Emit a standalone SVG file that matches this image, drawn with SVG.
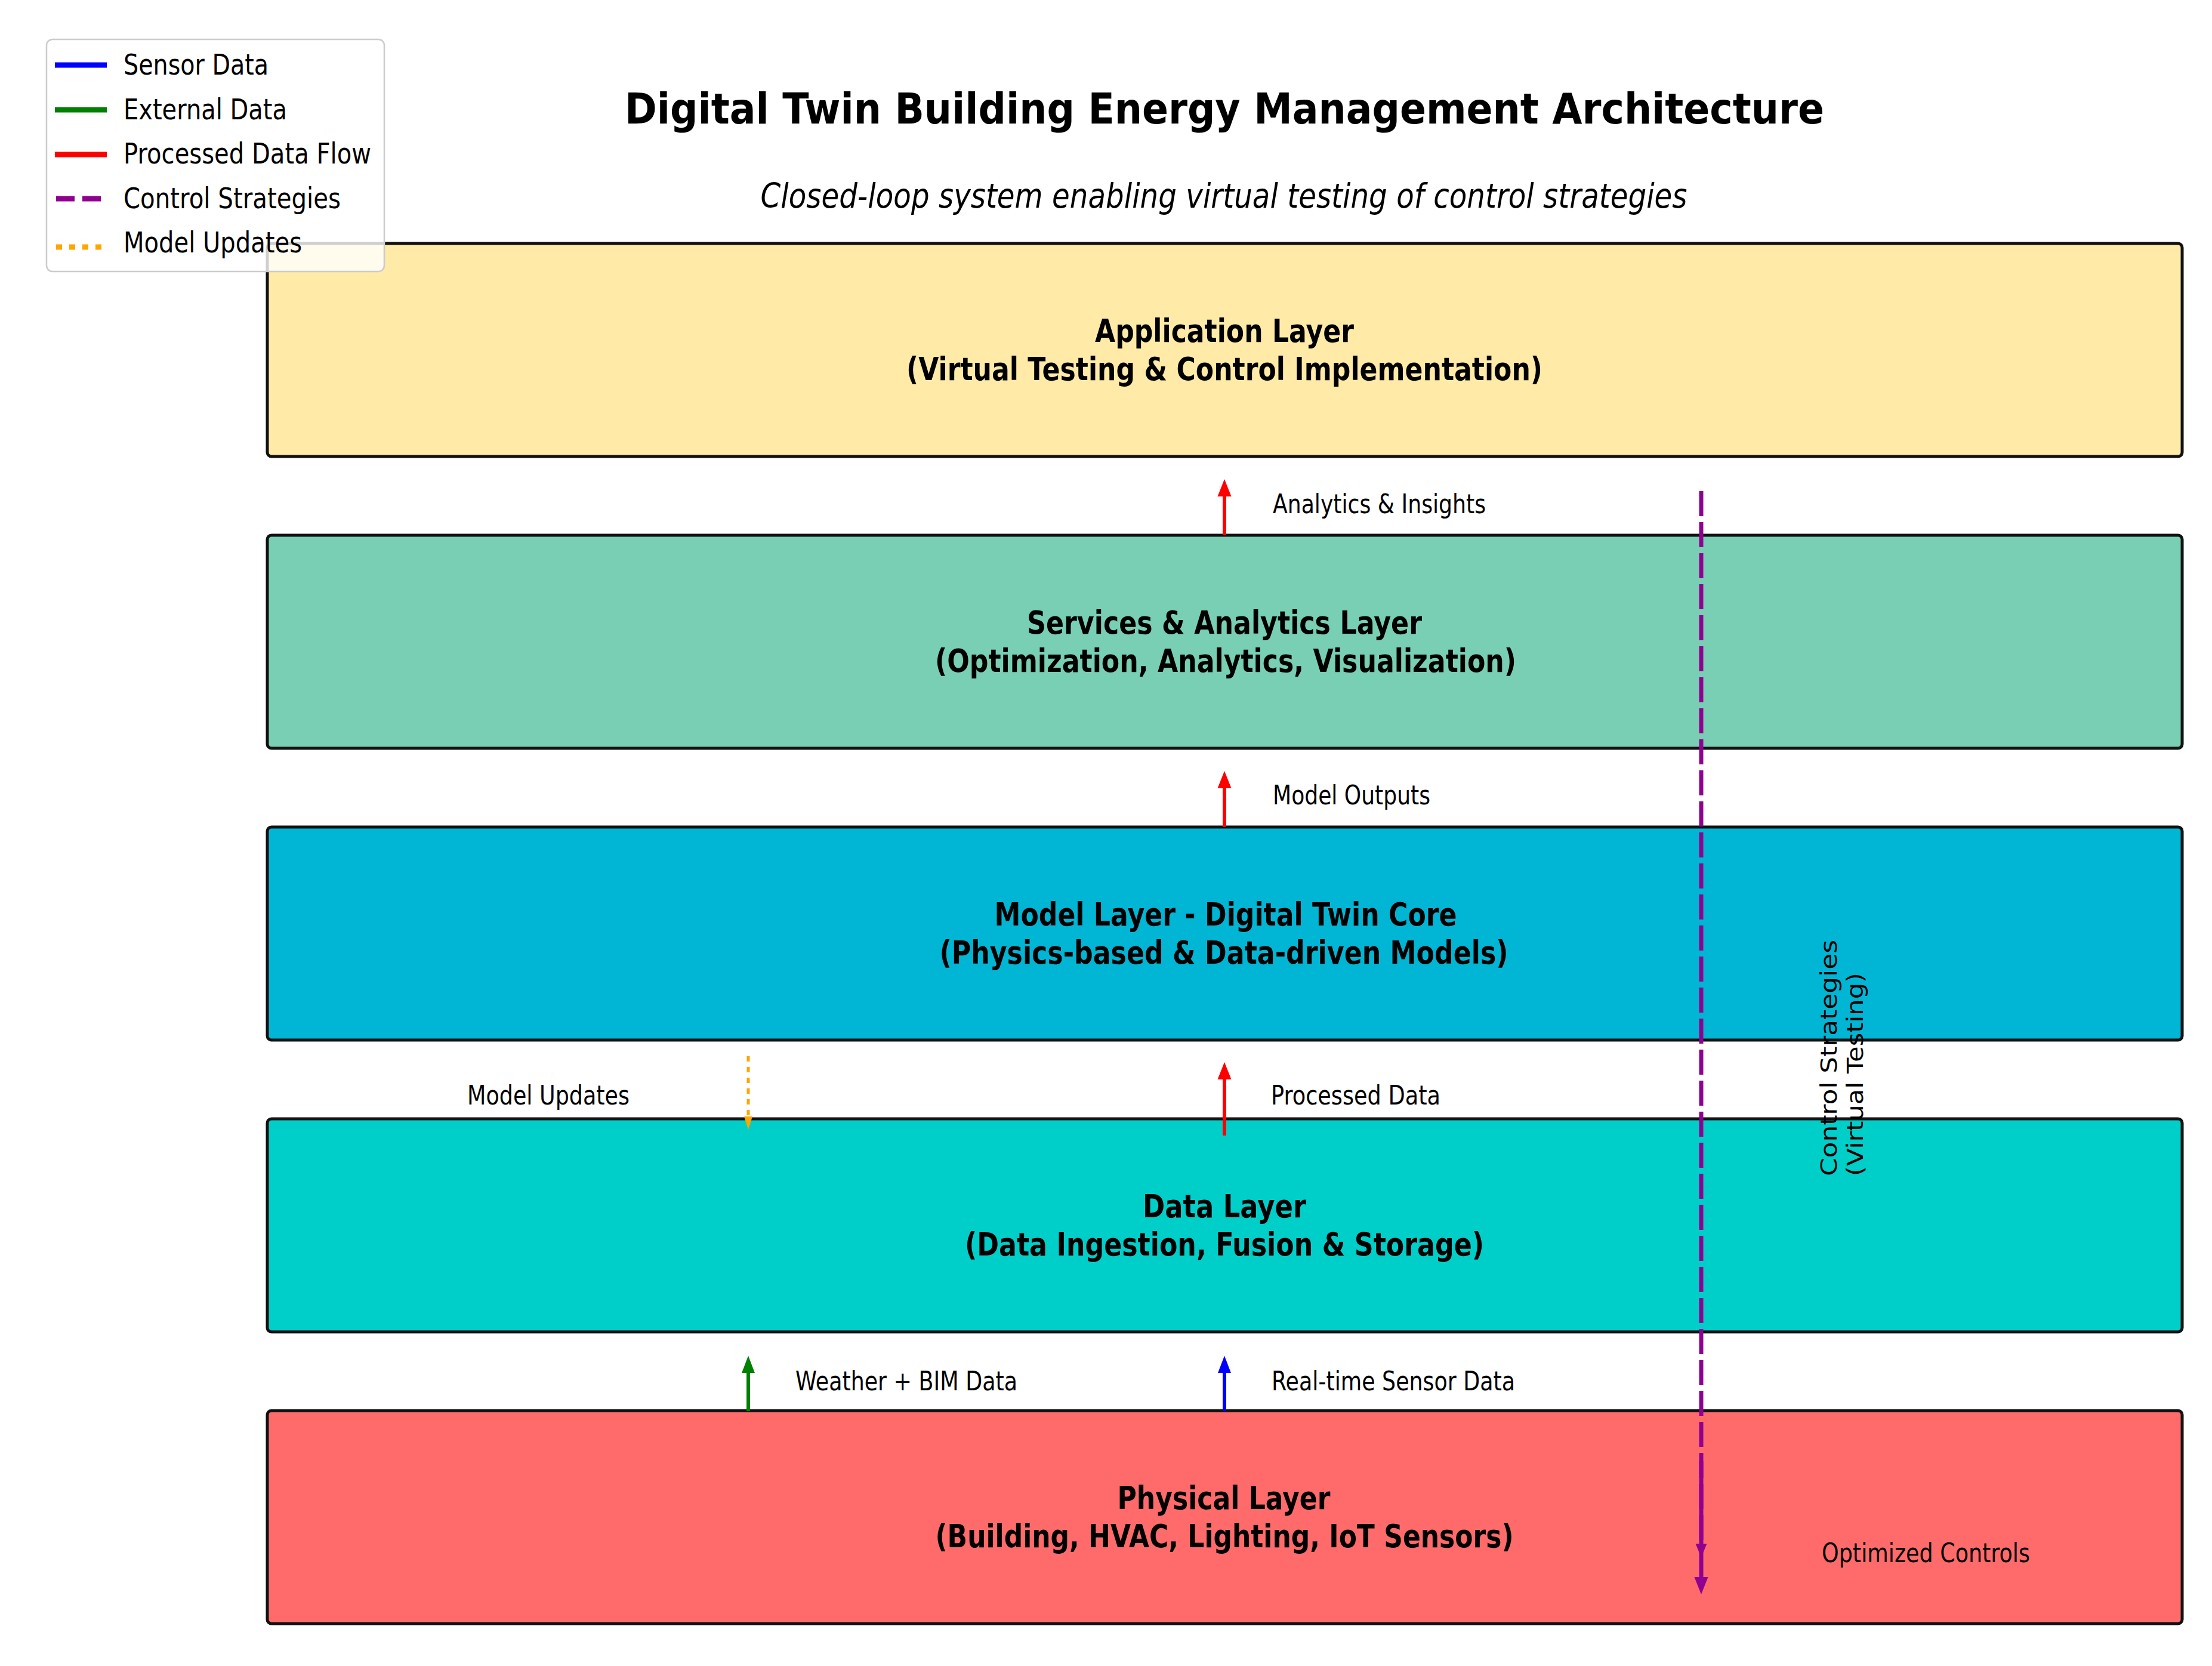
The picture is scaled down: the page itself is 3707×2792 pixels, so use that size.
<svg xmlns="http://www.w3.org/2000/svg" width="3707" height="2792" viewBox="0 0 3707 2792">
<style>
  text { font-family: "DejaVu Sans", "Liberation Sans", sans-serif; fill: #000; }
  .title { font-size: 72px; font-weight: bold; text-anchor: middle; }
  .sub { font-size: 57px; font-style: italic; text-anchor: middle; }
  .box { stroke: #111; stroke-width: 5; }
  .lt { font-size: 54px; font-weight: bold; text-anchor: middle; }
  .lbl { font-size: 44px; }
  .leg { font-size: 48px; }
  .rot { font-size: 44px; }
</style>
<defs>
  <marker id="hRed" markerUnits="userSpaceOnUse" markerWidth="30" markerHeight="24" refX="0" refY="12" orient="auto" overflow="visible">
    <path d="M0,0.5 L29,12 L0,23.5 Z" fill="#FF0000"/>
  </marker>
  <marker id="hBlue" markerUnits="userSpaceOnUse" markerWidth="30" markerHeight="24" refX="0" refY="12" orient="auto" overflow="visible">
    <path d="M0,1 L29,12 L0,23 Z" fill="#0000FF"/>
  </marker>
  <marker id="hGreen" markerUnits="userSpaceOnUse" markerWidth="30" markerHeight="24" refX="0" refY="12" orient="auto" overflow="visible">
    <path d="M0,1 L29,12 L0,23 Z" fill="#008000"/>
  </marker>
  <marker id="hOrange" markerUnits="userSpaceOnUse" markerWidth="24" markerHeight="16" refX="0" refY="8" orient="auto" overflow="visible">
    <path d="M0,1 L22,8 L0,15 Z" fill="#FFA500"/>
  </marker>
  <marker id="hPurpleS" markerUnits="userSpaceOnUse" markerWidth="24" markerHeight="20" refX="0" refY="10" orient="auto" overflow="visible">
    <path d="M0,0.5 L23,10 L0,19.5 Z" fill="#900090"/>
  </marker>
  <marker id="hPurple" markerUnits="userSpaceOnUse" markerWidth="30" markerHeight="24" refX="0" refY="12" orient="auto" overflow="visible">
    <path d="M0,0.5 L29,12 L0,23.5 Z" fill="#900090"/>
  </marker>
</defs>

<rect x="0" y="0" width="3707" height="2792" fill="#FFFFFF"/>

<g id="title">
  <text class="title" x="2052" y="207" textLength="2010" lengthAdjust="spacingAndGlyphs">Digital Twin Building Energy Management Architecture</text>
  <text class="sub" x="2051" y="348" textLength="1553" lengthAdjust="spacingAndGlyphs">Closed-loop system enabling virtual testing of control strategies</text>
</g>

<g id="application-layer">
  <rect class="box" x="448" y="408" width="3209" height="357" rx="7" fill="#FFEAA7"/>
  <text class="lt" x="2052" y="573" textLength="434" lengthAdjust="spacingAndGlyphs">Application Layer</text>
  <text class="lt" x="2052" y="637" textLength="1066" lengthAdjust="spacingAndGlyphs">(Virtual Testing &amp; Control Implementation)</text>
</g>

<g id="services-layer">
  <rect class="box" x="448" y="897" width="3209" height="357" rx="7" fill="#78CFB3"/>
  <text class="lt" x="2052" y="1062" textLength="662" lengthAdjust="spacingAndGlyphs">Services &amp; Analytics Layer</text>
  <text class="lt" x="2054" y="1126" textLength="974" lengthAdjust="spacingAndGlyphs">(Optimization, Analytics, Visualization)</text>
</g>

<g id="model-layer">
  <rect class="box" x="448" y="1386" width="3209" height="357" rx="7" fill="#00B6D4"/>
  <text class="lt" x="2054" y="1551" textLength="775" lengthAdjust="spacingAndGlyphs">Model Layer - Digital Twin Core</text>
  <text class="lt" x="2051" y="1615" textLength="953" lengthAdjust="spacingAndGlyphs">(Physics-based &amp; Data-driven Models)</text>
</g>

<g id="data-layer">
  <rect class="box" x="448" y="1875" width="3209" height="357" rx="7" fill="#00CEC9"/>
  <text class="lt" x="2052" y="2040" textLength="274" lengthAdjust="spacingAndGlyphs">Data Layer</text>
  <text class="lt" x="2052" y="2104" textLength="870" lengthAdjust="spacingAndGlyphs">(Data Ingestion, Fusion &amp; Storage)</text>
</g>

<g id="physical-layer">
  <rect class="box" x="448" y="2364" width="3209" height="357" rx="7" fill="#FF6B6B"/>
  <text class="lt" x="2051" y="2529" textLength="357" lengthAdjust="spacingAndGlyphs">Physical Layer</text>
  <text class="lt" x="2052" y="2593" textLength="969" lengthAdjust="spacingAndGlyphs">(Building, HVAC, Lighting, IoT Sensors)</text>
</g>

<g id="connectors" fill="none">
  <line x1="2052" y1="897" x2="2052" y2="832" stroke="#FF0000" stroke-width="6" marker-end="url(#hRed)"/>
  <line x1="2052" y1="1386" x2="2052" y2="1321" stroke="#FF0000" stroke-width="6" marker-end="url(#hRed)"/>
  <line x1="2052" y1="1903" x2="2052" y2="1809" stroke="#FF0000" stroke-width="6" marker-end="url(#hRed)"/>
  <line x1="2052" y1="2365" x2="2052" y2="2301" stroke="#0000FF" stroke-width="6" marker-end="url(#hBlue)"/>
  <line x1="1254" y1="2365" x2="1254" y2="2301" stroke="#008000" stroke-width="6" marker-end="url(#hGreen)"/>
  <line x1="1254" y1="1770" x2="1254" y2="1871" stroke="#FFA500" stroke-width="5" stroke-dasharray="9 9" marker-end="url(#hOrange)"/>
  <line x1="2851" y1="823" x2="2851" y2="2587" stroke="#900090" stroke-width="7" stroke-dasharray="42 10" marker-end="url(#hPurpleS)"/>
  <line x1="2851" y1="2448" x2="2851" y2="2643" stroke="#900090" stroke-width="7" marker-end="url(#hPurple)"/>
</g>

<g id="connector-labels">
  <text class="lbl" x="2133" y="860" textLength="357" lengthAdjust="spacingAndGlyphs">Analytics &amp; Insights</text>
  <text class="lbl" x="2133" y="1348" textLength="264" lengthAdjust="spacingAndGlyphs">Model Outputs</text>
  <text class="lbl" x="2130" y="1851" textLength="284" lengthAdjust="spacingAndGlyphs">Processed Data</text>
  <text class="lbl" x="783" y="1851" textLength="272" lengthAdjust="spacingAndGlyphs">Model Updates</text>
  <text class="lbl" x="1333" y="2330" textLength="372" lengthAdjust="spacingAndGlyphs">Weather + BIM Data</text>
  <text class="lbl" x="2131" y="2330" textLength="408" lengthAdjust="spacingAndGlyphs">Real-time Sensor Data</text>
  <text class="lbl" x="3053" y="2618" textLength="349" lengthAdjust="spacingAndGlyphs">Optimized Controls</text>
  <g transform="translate(3078,1971) scale(0.86,1) rotate(-90)">
    <text class="rot" x="0" y="0" textLength="396" lengthAdjust="spacingAndGlyphs">Control Strategies</text>
    <text class="rot" x="0" y="51" textLength="341" lengthAdjust="spacingAndGlyphs">(Virtual Testing)</text>
  </g>
</g>

<g id="legend">
  <rect x="78" y="66" width="566" height="389" rx="10" fill="#FFFFFF" fill-opacity="0.8" stroke="#CCCCCC" stroke-width="2.5"/>
  <line x1="92" y1="109" x2="179" y2="109" stroke="#0000FF" stroke-width="9"/>
  <line x1="92" y1="184" x2="179" y2="184" stroke="#008000" stroke-width="9"/>
  <line x1="92" y1="259" x2="179" y2="259" stroke="#FF0000" stroke-width="9"/>
  <line x1="94" y1="333" x2="170" y2="333" stroke="#900090" stroke-width="9" stroke-dasharray="31 13"/>
  <line x1="94" y1="414" x2="170" y2="414" stroke="#FFA500" stroke-width="9" stroke-dasharray="10 12"/>
  <text class="leg" x="207" y="125" textLength="243" lengthAdjust="spacingAndGlyphs">Sensor Data</text>
  <text class="leg" x="207" y="200" textLength="274" lengthAdjust="spacingAndGlyphs">External Data</text>
  <text class="leg" x="207" y="274" textLength="415" lengthAdjust="spacingAndGlyphs">Processed Data Flow</text>
  <text class="leg" x="207" y="349" textLength="364" lengthAdjust="spacingAndGlyphs">Control Strategies</text>
  <text class="leg" x="207" y="423" textLength="299" lengthAdjust="spacingAndGlyphs">Model Updates</text>
</g>
</svg>
